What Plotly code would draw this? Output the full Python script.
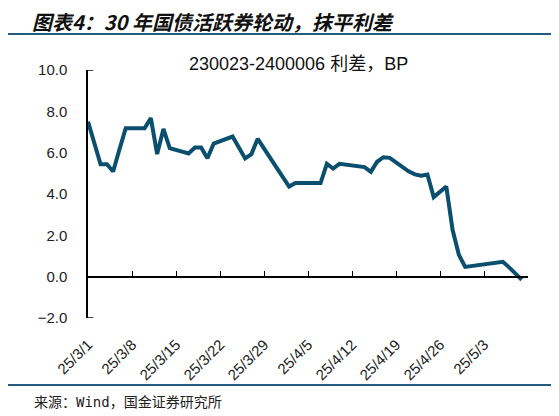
import pandas as pd
import plotly.graph_objects as go

# Spread 230023 - 2400006 (BP)
dates = ['2025-03-01', '2025-03-03', '2025-03-04', '2025-03-05', '2025-03-06', '2025-03-07',
         '2025-03-10', '2025-03-11', '2025-03-12', '2025-03-13', '2025-03-14',
         '2025-03-17', '2025-03-18', '2025-03-19', '2025-03-20', '2025-03-21',
         '2025-03-24', '2025-03-25', '2025-03-26', '2025-03-27', '2025-03-28',
         '2025-03-31', '2025-04-01', '2025-04-02', '2025-04-03',
         '2025-04-07', '2025-04-08', '2025-04-09', '2025-04-10', '2025-04-11',
         '2025-04-14', '2025-04-15', '2025-04-16', '2025-04-17', '2025-04-18',
         '2025-04-21', '2025-04-22', '2025-04-23', '2025-04-24', '2025-04-25',
         '2025-04-27', '2025-04-28', '2025-04-29', '2025-04-30',
         '2025-05-06', '2025-05-07', '2025-05-08', '2025-05-09']
spread = [7.50, 5.44, 5.44, 5.09, 6.15, 7.18,
          7.18, 7.67, 5.93, 7.15, 6.22,
          5.96, 6.25, 6.25, 5.73, 6.44,
          6.78, 6.25, 5.72, 5.93, 6.67,
          5.28, 4.82, 4.36, 4.53,
          4.53, 5.46, 5.23, 5.46, 5.43,
          5.30, 5.07, 5.56, 5.78, 5.75,
          5.10, 4.95, 4.88, 4.94, 3.85,
          4.36, 2.27, 1.06, 0.47,
          0.72, 0.45, 0.17, -0.15]

tick_labels = ['25/3/1', '25/3/8', '25/3/15', '25/3/22', '25/3/29',
               '25/4/5', '25/4/12', '25/4/19', '25/4/26', '25/5/3']

header = '图表4：30 年国债活跃券轮动，抹平利差'
subtitle = '230023-2400006 利差，BP'
source = '来源：Wind，国金证券研究所'

# the page body adds an 8px margin, so the figure is drawn 8px in from the
# top-left corner and all reference pixel positions are shifted by that amount
OFF = 8
W, H = 559 - OFF, 416 - OFF
L, R, T, B = 88 - OFF, 528 - OFF, 70 - OFF, 318 - OFF

def px(x):
    return (x - OFF - L) / (R - L)

def py(y):
    return (B - (y - OFF)) / (B - T)

week_ticks = pd.date_range('2025-03-01', '2025-05-10', freq='7D')
x_range = ['2025-03-01', '2025-05-10']
y_min, y_max = -2, 10

line_color = '#0b4f6f'
rule_color = '#245c80'

fig = go.Figure()
fig.add_trace(go.Scatter(
    x=dates, y=spread, mode='lines',
    line=dict(color=line_color, width=4),
    showlegend=False, hoverinfo='skip'
))
# invisible copy so the zero-line axis (x2) gets drawn
fig.add_trace(go.Scatter(
    x=dates, y=spread, mode='lines', xaxis='x2',
    line=dict(width=0), opacity=0,
    showlegend=False, hoverinfo='skip'
))

fig.update_layout(
    width=W, height=H,
    margin=dict(l=L, r=W - R, t=T, b=H - B),
    paper_bgcolor='white', plot_bgcolor='white',
    font=dict(family='Liberation Sans, Noto Sans CJK SC', size=15, color='#222222'),
    xaxis=dict(
        type='date', range=x_range,
        tickvals=list(week_ticks[:len(tick_labels)]), ticktext=tick_labels,
        tickangle=-45, ticks='', showline=False, showgrid=False, zeroline=False,
        tickfont=dict(size=15, color='#222222'), ticklabelstandoff=14
    ),
    xaxis2=dict(
        type='date', range=x_range, overlaying='x',
        anchor='free', position=(0 - y_min) / (y_max - y_min),
        tickvals=list(week_ticks), showticklabels=False,
        ticks='inside', ticklen=5, tickcolor='black', tickwidth=1,
        showline=True, linecolor='black', linewidth=1.5,
        showgrid=False, zeroline=False
    ),
    yaxis=dict(
        range=[y_min, y_max], dtick=2, tickformat='.1f',
        showline=True, linecolor='black', linewidth=1.5,
        ticks='', showgrid=False, zeroline=False,
        tickfont=dict(size=15, color='#222222'), ticklabelstandoff=16
    ),
)

# small caps at both ends of the y axis
for yv in (y_min, y_max):
    fig.add_shape(type='line', xref='x domain', yref='y',
                  x0=0, x1=0.012, y0=yv, y1=yv,
                  line=dict(color='black', width=1.5))

# header / footer rules
for yr in (34, 385):
    fig.add_shape(type='line', xref='paper', yref='paper',
                  x0=px(OFF), x1=px(553), y0=py(yr), y1=py(yr),
                  line=dict(color=rule_color, width=2))

fig.add_annotation(text=header, xref='paper', yref='paper',
                   x=px(31), y=py(21.5), xanchor='left', yanchor='middle',
                   showarrow=False, borderpad=0,
                   font=dict(family='Noto Sans CJK SC', size=20, color='#111111',
                             weight='bold', style='italic'))
fig.add_annotation(text=subtitle, xref='paper', yref='paper',
                   x=px(298), y=py(64), xanchor='center', yanchor='middle',
                   showarrow=False,
                   font=dict(family='Liberation Sans, Noto Sans CJK SC', size=18, color='#111111'))
fig.add_annotation(text=source, xref='paper', yref='paper',
                   x=px(32), y=py(402), xanchor='left', yanchor='middle',
                   showarrow=False,
                   font=dict(family='DejaVu Sans Mono, Noto Sans CJK SC', size=14, color='#222222'))

fig.write_html('out.html')
